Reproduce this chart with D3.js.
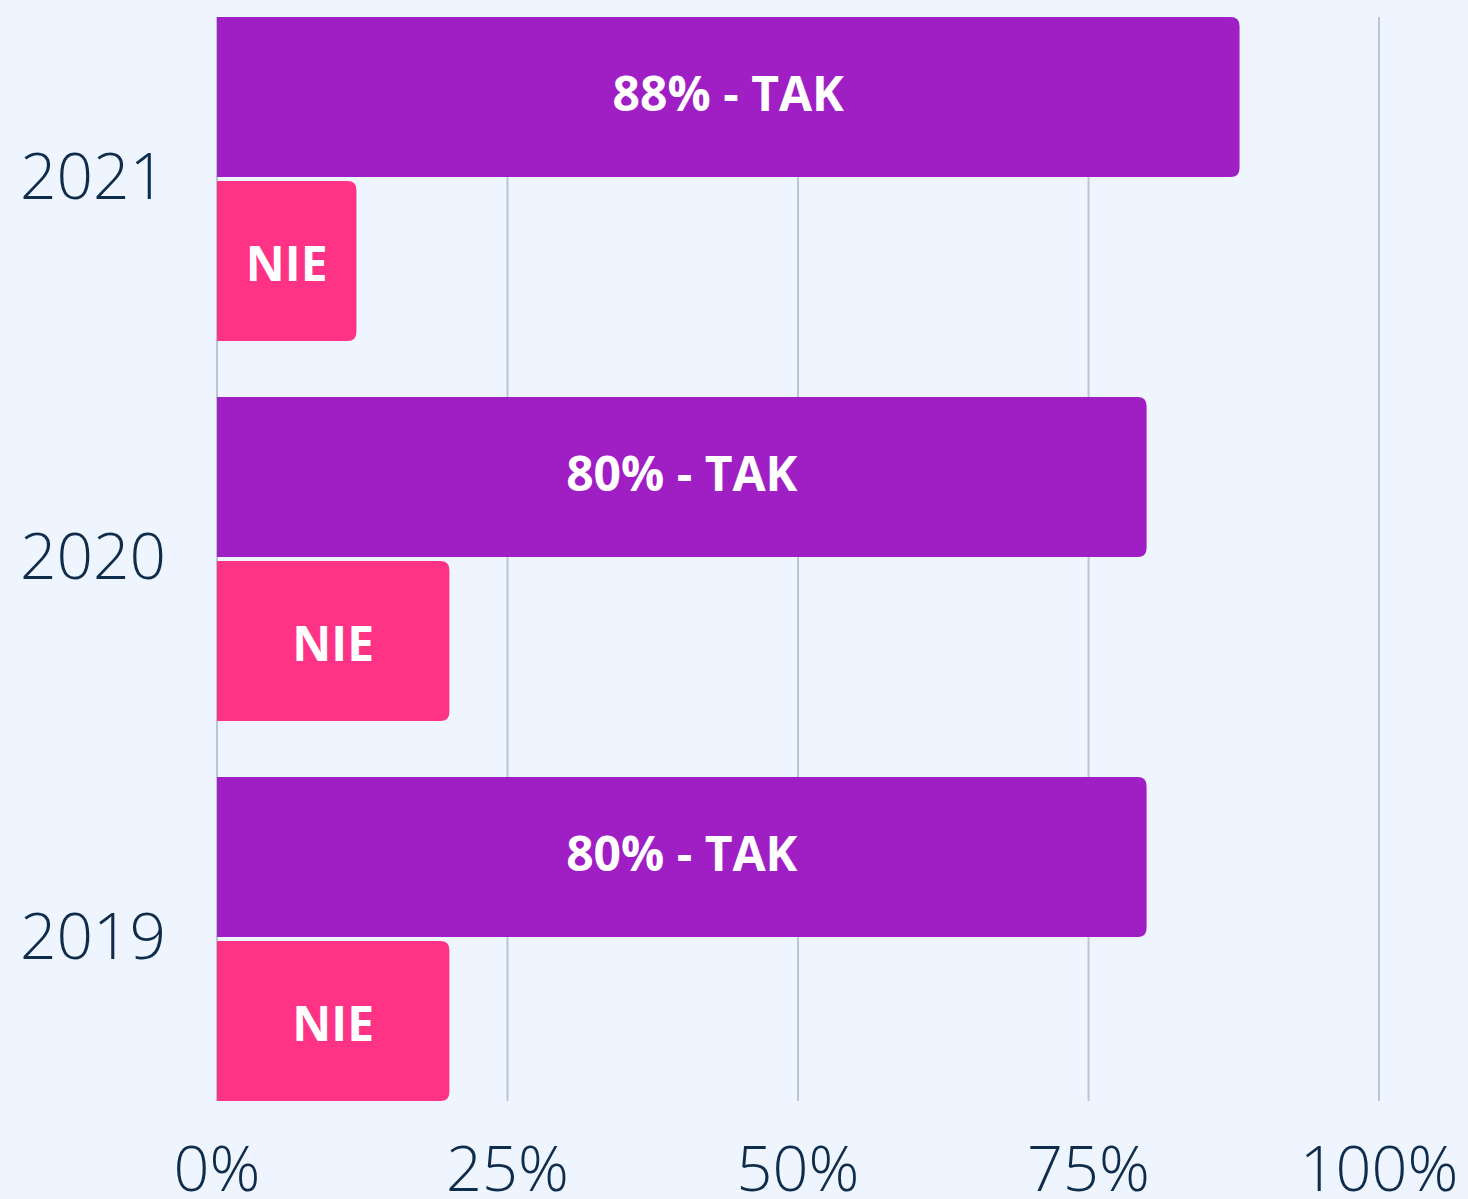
<!DOCTYPE html>
<html><head><meta charset="utf-8">
<script src="https://cdn.jsdelivr.net/npm/d3@7"></script>
<style>
html,body{margin:0;padding:0;background:#eef5ff;}
svg{display:block;}
</style></head>
<body>
<svg id="chart" width="1468" height="1199"></svg>
<script>
const years = ["2021", "2020", "2019"];
const series = ["TAK", "NIE"];
const takValues = [88, 80, 80];
const nieValues = [12, 20, 20];
const barLabels = {TAK: v => v + "% - TAK", NIE: v => "NIE"};
const xTicks = [0, 25, 50, 75, 100];
const colors = {TAK: "#a01fc4", NIE: "#ff3385"};

const svg = d3.select("#chart");
const W = 1468, H = 1199;
const mLeft = 217, mRight = 1379, mTop = 17, mBottom = 1101;

const x = d3.scaleLinear().domain([0, 100]).range([mLeft, mRight]);
const y = d3.scaleBand().domain(years).range([mTop, mBottom]).paddingInner(56/380).paddingOuter(0);
const ys = d3.scaleBand().domain(series).range([0, y.bandwidth()]).paddingInner(4/164).paddingOuter(0);

svg.append("rect").attr("width", W).attr("height", H).attr("fill", "#eef5ff");

// gridlines
svg.append("g").selectAll("line").data(xTicks).join("line")
  .attr("x1", d => x(d)).attr("x2", d => x(d))
  .attr("y1", mTop).attr("y2", mBottom)
  .attr("stroke", "#b9c5d3").attr("stroke-width", 2);

const data = [];
years.forEach((yr, i) => {
  data.push({year: yr, s: "TAK", v: takValues[i]});
  data.push({year: yr, s: "NIE", v: nieValues[i]});
});

function barPath(d) {
  const x0 = x(0), x1 = x(d.v);
  const y0 = y(d.year) + ys(d.s), h = ys.bandwidth();
  const r = Math.min(9, (x1 - x0) / 2);
  return `M${x0},${y0} H${x1 - r} Q${x1},${y0} ${x1},${y0 + r} V${y0 + h - r} Q${x1},${y0 + h} ${x1 - r},${y0 + h} H${x0} Z`;
}

svg.append("g").selectAll("path").data(data).join("path")
  .attr("d", barPath).attr("fill", d => colors[d.s]);

svg.append("g").selectAll("text").data(data).join("text")
  .attr("x", d => (x(0) + x(d.v)) / 2)
  .attr("y", d => y(d.year) + ys(d.s) + ys.bandwidth() / 2)
  .attr("dy", d => d.s === "TAK" ? "0.3em" : "0.42em")
  .attr("text-anchor", "middle")
  .attr("font-family", "'Open Sans', sans-serif")
  .attr("font-weight", 700)
  .attr("font-size", 48)
  .attr("fill", "#ffffff")
  .text(d => barLabels[d.s](d.v));

// year labels
svg.append("g").selectAll("text").data(years).join("text")
  .attr("x", 166)
  .attr("y", d => y(d) + y.bandwidth() / 2)
  .attr("dy", "0.32em")
  .attr("text-anchor", "end")
  .attr("font-family", "'Open Sans', sans-serif")
  .attr("font-weight", 300)
  .attr("font-size", 64)
  .attr("fill", "#0f2c4a")
  .text(d => d);

// x tick labels
svg.append("g").selectAll("text").data(xTicks).join("text")
  .attr("x", d => x(d))
  .attr("y", 1191)
  .attr("text-anchor", "middle")
  .attr("font-family", "'Open Sans', sans-serif")
  .attr("font-weight", 300)
  .attr("font-size", 63)
  .attr("fill", "#0f2c4a")
  .text(d => d + "%");
</script>
</body></html>
